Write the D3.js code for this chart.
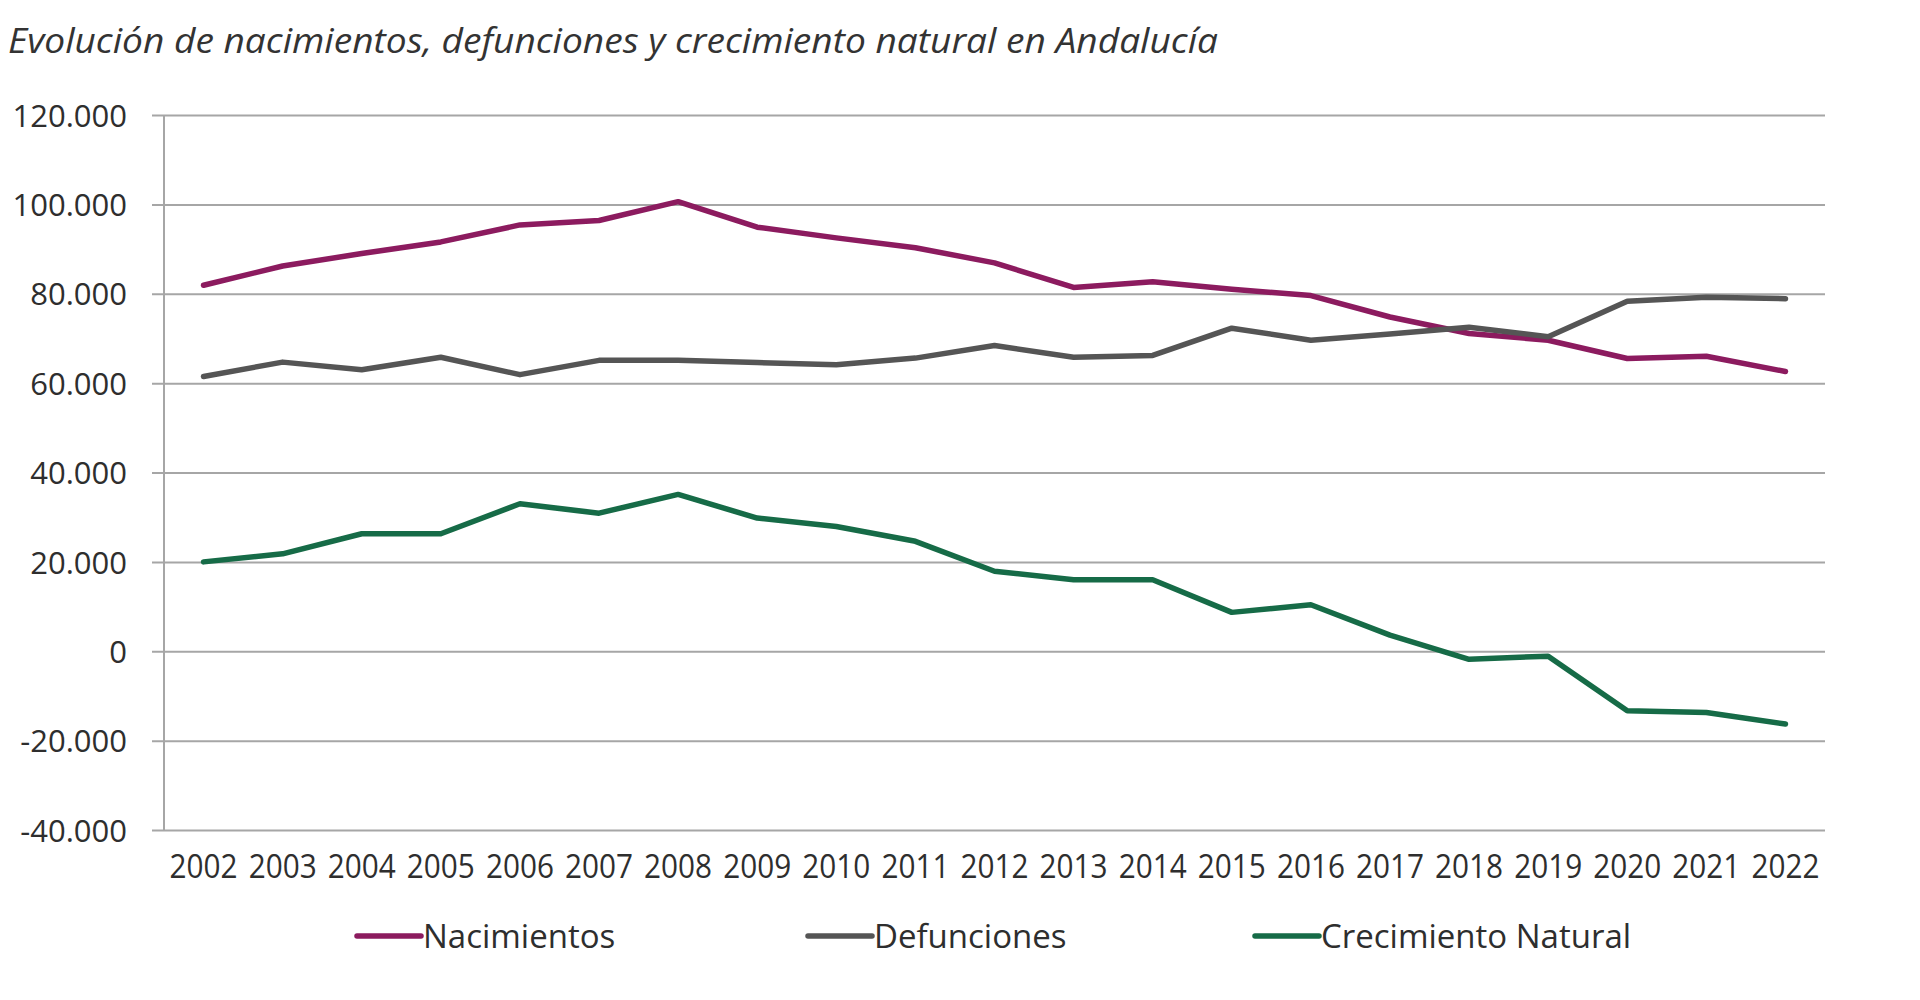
<!DOCTYPE html>
<html>
<head>
<meta charset="utf-8">
<script src="https://cdn.jsdelivr.net/npm/d3@7"></script>
<style>
  html, body { margin: 0; padding: 0; background: #ffffff; }
  svg { display: block; }
</style>
</head>
<body>
<svg id="chart" width="1920" height="1000"></svg>
<script>
const years = ["2002","2003","2004","2005","2006","2007","2008","2009","2010","2011","2012","2013","2014","2015","2016","2017","2018","2019","2020","2021","2022"];
const nacimientos = [81900, 86200, 89000, 91600, 95400, 96400, 100600, 94900, 92500, 90300, 86900, 81400, 82700, 81000, 79600, 74800, 71100, 69600, 65500, 66000, 62600];
const defunciones = [61500, 64700, 63000, 65800, 61900, 65100, 65100, 64600, 64100, 65600, 68400, 65800, 66200, 72300, 69600, 71000, 72500, 70400, 78300, 79200, 78900];
const crecimiento = [20000, 21800, 26300, 26300, 33000, 30900, 35100, 29800, 27900, 24600, 17900, 16000, 16000, 8700, 10400, 3600, -1800, -1100, -13300, -13700, -16300];
const yTicks = [-40000, -20000, 0, 20000, 40000, 60000, 80000, 100000, 120000];
const seriesNames = ["Nacimientos", "Defunciones", "Crecimiento Natural"];
const seriesColors = ["#8c1b5f", "#555555", "#166b47"];
const titleText = "Evolución de nacimientos, defunciones y crecimiento natural en Andalucía";

(function () {
const series = [nacimientos, defunciones, crecimiento];
const svg = d3.select("#chart");
const font = "'Open Sans', 'Noto Sans', sans-serif";

const locale = d3.formatLocale({decimal: ",", thousands: ".", grouping: [3], currency: ["", " €"], minus: "-"});
const fmt = locale.format(",d");

const pLeft = 164, pRight = 1825, pTop = 115, pBottom = 830;
const x = d3.scaleBand().domain(years).range([pLeft, pRight]).padding(0);
const xc = d => x(d) + x.bandwidth() / 2;
const y = d3.scaleLinear().domain([-40000, 120000]).range([pBottom, pTop]);

// title
svg.append("text")
  .attr("x", 8).attr("y", 53)
  .attr("font-family", font).attr("font-style", "italic")
  .attr("font-size", 34).attr("fill", "#333")
  .attr("textLength", 1210).attr("lengthAdjust", "spacingAndGlyphs")
  .text(titleText);

// gridlines + y axis labels
const yAxis = d3.axisLeft(y).tickValues(yTicks).tickFormat(fmt)
  .tickSize(-(pRight - pLeft)).tickPadding(0);
const gy = svg.append("g").attr("transform", `translate(${pLeft},0)`).call(yAxis);
gy.select(".domain").remove();
gy.selectAll(".tick line")
  .attr("x1", -12)
  .attr("stroke", "#a6a6a6").attr("stroke-width", 2);
gy.selectAll(".tick text")
  .attr("x", -37)
  .attr("font-family", font).attr("font-size", 31)
  .attr("fill", "#2e2e2e").attr("dy", "0.36em");

// vertical axis line
svg.append("line")
  .attr("x1", pLeft).attr("x2", pLeft)
  .attr("y1", y(120000)).attr("y2", y(-40000))
  .attr("stroke", "#a6a6a6").attr("stroke-width", 2);

// x axis labels
const xAxis = d3.axisBottom(x).tickSize(0).tickPadding(0);
const gx = svg.append("g").attr("transform", `translate(0,${pBottom})`).call(xAxis);
gx.select(".domain").remove();
gx.selectAll(".tick text")
  .attr("y", 48).attr("dy", 0)
  .attr("font-family", font).attr("font-size", 32)
  .attr("fill", "#2e2e2e")
  .attr("textLength", 68).attr("lengthAdjust", "spacingAndGlyphs");

// lines
const line = d3.line().x((d, i) => xc(years[i])).y(d => y(d)).curve(d3.curveLinear);
series.forEach((s, k) => {
  svg.append("path")
    .datum(s)
    .attr("d", line)
    .attr("fill", "none")
    .attr("stroke", seriesColors[k])
    .attr("stroke-width", 5.5)
    .attr("stroke-linejoin", "round")
    .attr("stroke-linecap", "round");
});

// legend
const legendX = [357, 808, 1255];
const legendY = 936;
seriesNames.forEach((name, k) => {
  const g = svg.append("g").attr("transform", `translate(${legendX[k]},${legendY})`);
  g.append("line").attr("x1", 0).attr("x2", 64).attr("y1", 0).attr("y2", 0)
    .attr("stroke", seriesColors[k]).attr("stroke-width", 5.5).attr("stroke-linecap", "round");
  g.append("text").attr("x", 66).attr("y", 12)
    .attr("font-family", font).attr("font-size", 33).attr("fill", "#2e2e2e")
    .text(name);
});
})();
</script>
</body>
</html>
